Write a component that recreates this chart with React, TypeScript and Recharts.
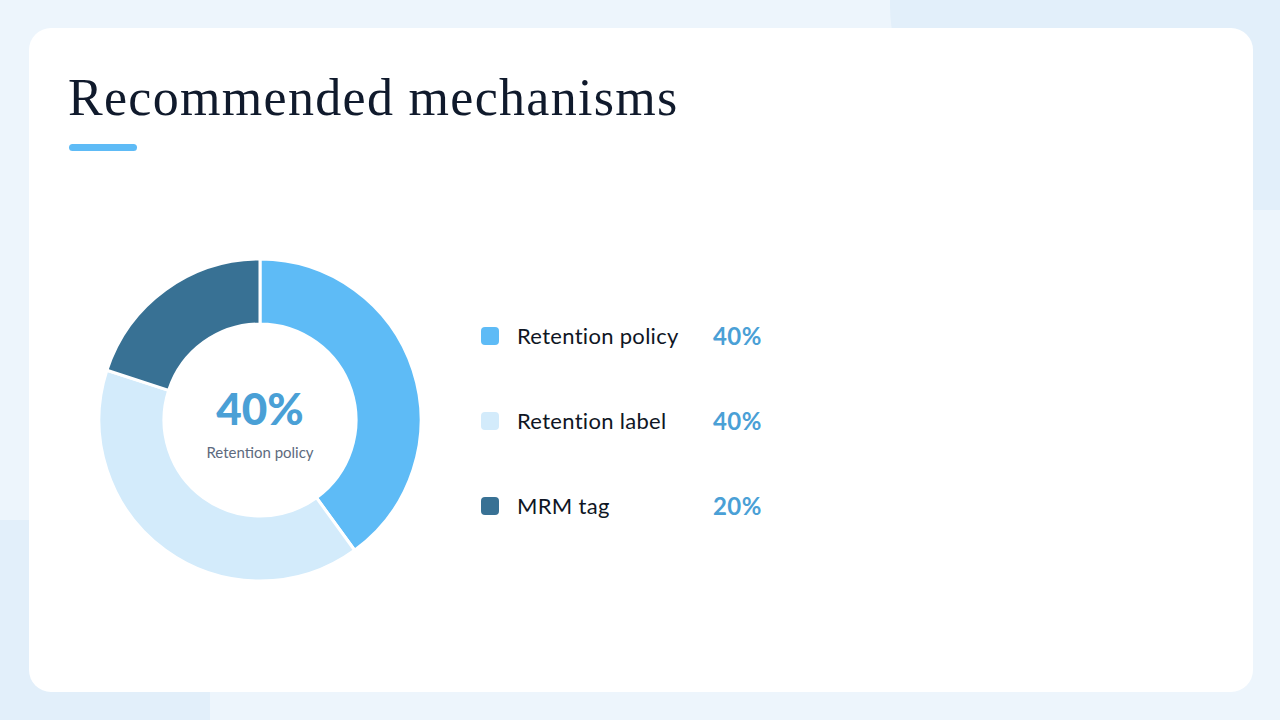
import React from "react";
import { PieChart, Pie, Cell, Legend, Label } from "recharts";

// chart data
const categorias = ["Retention policy", "Retention label", "MRM tag"];
const valores = [40, 40, 20];
const cores = ["#5ebbf6", "#d3ebfb", "#387194"];

const dados = categorias.map((nome, i) => ({ nome, valor: valores[i] }));

const SANS = "Lato, 'Noto Sans', sans-serif";
const CX = 260;
const CY = 420;

const LegendaCustom = () => (
  <div style={{ fontFamily: SANS }}>
    {dados.map((d, i) => (
      <div
        key={d.nome}
        style={{ display: "flex", alignItems: "center", height: 85 }}
      >
        <div
          style={{
            width: 18,
            height: 18,
            borderRadius: 4,
            background: cores[i],
            marginRight: 18,
          }}
        />
        <div
          style={{
            width: 196,
            fontSize: 22,
            letterSpacing: 0.3,
            color: "#0f1624",
          }}
        >
          {d.nome}
        </div>
        <div
          style={{
            fontSize: 24,
            fontWeight: 700,
            letterSpacing: 0.4,
            color: "#4aa0d6",
          }}
        >
          {d.valor}%
        </div>
      </div>
    ))}
  </div>
);

// texto no centro do donut
const CentroLabel = () => (
  <g>
    <text
      x={CX}
      y={CY + 5}
      textAnchor="middle"
      fill="#4aa0d6"
      fontFamily={SANS}
      fontWeight={900}
      fontSize={44}
    >
      {valores[0]}%
    </text>
    <text
      x={CX}
      y={CY + 38}
      textAnchor="middle"
      fill="#5d6a7e"
      fontFamily={SANS}
      fontSize={15}
    >
      {categorias[0]}
    </text>
  </g>
);

export default function App() {
  return (
    <div
      style={{
        position: "fixed",
        inset: 0,
        width: 1280,
        height: 720,
        overflow: "hidden",
        background: "#edf5fc",
      }}
    >
      {/* fundo */}
      <div
        style={{
          position: "absolute",
          left: 890,
          top: -300,
          width: 700,
          height: 510,
          borderRadius: "40%",
          background: "#e2effa",
        }}
      />
      <div
        style={{
          position: "absolute",
          left: -300,
          top: 520,
          width: 510,
          height: 400,
          borderRadius: "30%",
          background: "#e2effa",
        }}
      />
      <div
        style={{
          position: "absolute",
          left: 29,
          top: 28,
          width: 1224,
          height: 664,
          borderRadius: 22,
          background: "#ffffff",
        }}
      />
      <div
        style={{
          position: "absolute",
          left: 68,
          top: 68,
          fontFamily: "'Liberation Serif', serif",
          fontSize: 52,
          color: "#101a2c",
          letterSpacing: 1.3,
        }}
      >
        Recommended mechanisms
      </div>
      <div
        style={{
          position: "absolute",
          left: 69,
          top: 144,
          width: 68,
          height: 7,
          borderRadius: 4,
          background: "#5ebbf6",
        }}
      />
      <div style={{ position: "absolute", left: 0, top: 0 }}>
        <PieChart
          width={1280}
          height={720}
          margin={{ top: 0, right: 0, bottom: 0, left: 0 }}
        >
          <Pie
            data={dados}
            dataKey="valor"
            nameKey="nome"
            cx={CX}
            cy={CY}
            innerRadius={96}
            outerRadius={161}
            startAngle={90}
            endAngle={-270}
            stroke="#ffffff"
            strokeWidth={3}
            isAnimationActive={false}
          >
            {dados.map((d, i) => (
              <Cell key={d.nome} fill={cores[i]} />
            ))}
            <Label position="center" content={CentroLabel} />
          </Pie>
          <Legend
            content={LegendaCustom}
            layout="vertical"
            wrapperStyle={{ left: 481, top: 293, width: 320 }}
          />
        </PieChart>
      </div>
    </div>
  );
}
